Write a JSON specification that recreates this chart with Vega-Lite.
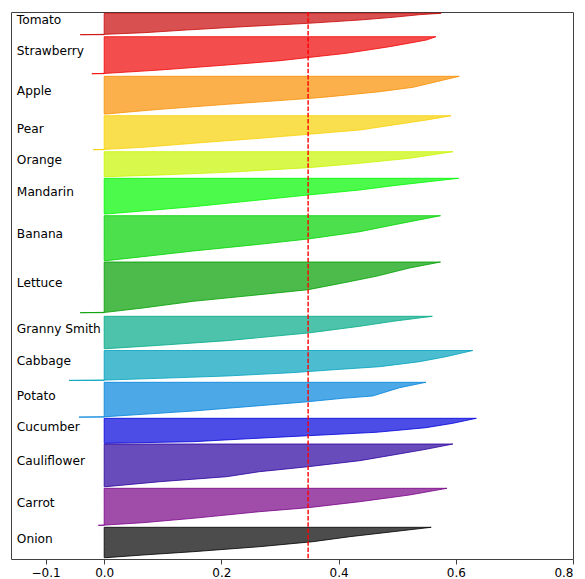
{
  "$schema": "https://vega.github.io/schema/vega-lite/v6.json",
  "width": 562,
  "height": 547,
  "autosize": "none",
  "padding": {"left": 11, "top": 12, "right": 12, "bottom": 20},
  "background": "white",
  "config": {
    "view": {"stroke": "#404040", "strokeWidth": 1},
    "font": "DejaVu Sans"
  },
  "datasets": {
    "silhouette": [
      {"cluster": "Tomato", "rank": 545.7, "value": 0.575},
      {"cluster": "Tomato", "rank": 544.3, "value": 0.538},
      {"cluster": "Tomato", "rank": 541.7, "value": 0.493},
      {"cluster": "Tomato", "rank": 539.0, "value": 0.436},
      {"cluster": "Tomato", "rank": 535.7, "value": 0.348},
      {"cluster": "Tomato", "rank": 532.3, "value": 0.237},
      {"cluster": "Tomato", "rank": 529.0, "value": 0.14},
      {"cluster": "Tomato", "rank": 526.3, "value": 0.068},
      {"cluster": "Tomato", "rank": 524.7, "value": 0.003},
      {"cluster": "Tomato", "rank": 524.3, "value": -0.041},

      {"cluster": "Strawberry", "rank": 522.3, "value": 0.566},
      {"cluster": "Strawberry", "rank": 519.0, "value": 0.55},
      {"cluster": "Strawberry", "rank": 512.3, "value": 0.487},
      {"cluster": "Strawberry", "rank": 505.7, "value": 0.413},
      {"cluster": "Strawberry", "rank": 498.3, "value": 0.30},
      {"cluster": "Strawberry", "rank": 494.0, "value": 0.209},
      {"cluster": "Strawberry", "rank": 489.0, "value": 0.095},
      {"cluster": "Strawberry", "rank": 485.7, "value": 0.005},
      {"cluster": "Strawberry", "rank": 485.3, "value": -0.021},

      {"cluster": "Apple", "rank": 482.7, "value": 0.606},
      {"cluster": "Apple", "rank": 477.3, "value": 0.567},
      {"cluster": "Apple", "rank": 471.7, "value": 0.527},
      {"cluster": "Apple", "rank": 467.3, "value": 0.47},
      {"cluster": "Apple", "rank": 462.3, "value": 0.385},
      {"cluster": "Apple", "rank": 460.5, "value": 0.348},
      {"cluster": "Apple", "rank": 454.7, "value": 0.209},
      {"cluster": "Apple", "rank": 449.7, "value": 0.095},
      {"cluster": "Apple", "rank": 445.0, "value": 0.003},

      {"cluster": "Pear", "rank": 443.3, "value": 0.592},
      {"cluster": "Pear", "rank": 439.0, "value": 0.55},
      {"cluster": "Pear", "rank": 434.0, "value": 0.493},
      {"cluster": "Pear", "rank": 429.0, "value": 0.436},
      {"cluster": "Pear", "rank": 424.7, "value": 0.348},
      {"cluster": "Pear", "rank": 420.7, "value": 0.265},
      {"cluster": "Pear", "rank": 415.7, "value": 0.152},
      {"cluster": "Pear", "rank": 411.7, "value": 0.066},
      {"cluster": "Pear", "rank": 409.7, "value": 0.003},
      {"cluster": "Pear", "rank": 409.3, "value": -0.019},

      {"cluster": "Orange", "rank": 407.3, "value": 0.595},
      {"cluster": "Orange", "rank": 400.7, "value": 0.521},
      {"cluster": "Orange", "rank": 395.7, "value": 0.436},
      {"cluster": "Orange", "rank": 391.3, "value": 0.348},
      {"cluster": "Orange", "rank": 386.7, "value": 0.209},
      {"cluster": "Orange", "rank": 384.0, "value": 0.095},
      {"cluster": "Orange", "rank": 382.3, "value": 0.003},

      {"cluster": "Mandarin", "rank": 380.7, "value": 0.605},
      {"cluster": "Mandarin", "rank": 373.3, "value": 0.493},
      {"cluster": "Mandarin", "rank": 369.0, "value": 0.436},
      {"cluster": "Mandarin", "rank": 364.0, "value": 0.348},
      {"cluster": "Mandarin", "rank": 359.0, "value": 0.265},
      {"cluster": "Mandarin", "rank": 352.3, "value": 0.152},
      {"cluster": "Mandarin", "rank": 348.0, "value": 0.066},
      {"cluster": "Mandarin", "rank": 345.0, "value": 0.003},

      {"cluster": "Banana", "rank": 343.3, "value": 0.574},
      {"cluster": "Banana", "rank": 334.0, "value": 0.493},
      {"cluster": "Banana", "rank": 327.3, "value": 0.436},
      {"cluster": "Banana", "rank": 320.0, "value": 0.348},
      {"cluster": "Banana", "rank": 314.7, "value": 0.265},
      {"cluster": "Banana", "rank": 308.0, "value": 0.152},
      {"cluster": "Banana", "rank": 302.3, "value": 0.066},
      {"cluster": "Banana", "rank": 298.3, "value": 0.003},

      {"cluster": "Lettuce", "rank": 297.0, "value": 0.574},
      {"cluster": "Lettuce", "rank": 291.0, "value": 0.521},
      {"cluster": "Lettuce", "rank": 282.7, "value": 0.464},
      {"cluster": "Lettuce", "rank": 276.0, "value": 0.407},
      {"cluster": "Lettuce", "rank": 269.3, "value": 0.348},
      {"cluster": "Lettuce", "rank": 264.3, "value": 0.265},
      {"cluster": "Lettuce", "rank": 257.7, "value": 0.152},
      {"cluster": "Lettuce", "rank": 251.0, "value": 0.066},
      {"cluster": "Lettuce", "rank": 246.7, "value": 0.003},
      {"cluster": "Lettuce", "rank": 246.3, "value": -0.041},

      {"cluster": "Granny Smith", "rank": 242.7, "value": 0.56},
      {"cluster": "Granny Smith", "rank": 237.7, "value": 0.493},
      {"cluster": "Granny Smith", "rank": 232.7, "value": 0.436},
      {"cluster": "Granny Smith", "rank": 226.0, "value": 0.348},
      {"cluster": "Granny Smith", "rank": 218.3, "value": 0.209},
      {"cluster": "Granny Smith", "rank": 213.7, "value": 0.095},
      {"cluster": "Granny Smith", "rank": 210.3, "value": 0.003},

      {"cluster": "Cabbage", "rank": 208.5, "value": 0.629},
      {"cluster": "Cabbage", "rank": 202.3, "value": 0.583},
      {"cluster": "Cabbage", "rank": 197.3, "value": 0.538},
      {"cluster": "Cabbage", "rank": 192.3, "value": 0.47},
      {"cluster": "Cabbage", "rank": 189.0, "value": 0.385},
      {"cluster": "Cabbage", "rank": 186.3, "value": 0.32},
      {"cluster": "Cabbage", "rank": 183.0, "value": 0.209},
      {"cluster": "Cabbage", "rank": 180.7, "value": 0.095},
      {"cluster": "Cabbage", "rank": 179.0, "value": 0.003},
      {"cluster": "Cabbage", "rank": 178.6, "value": -0.06},

      {"cluster": "Potato", "rank": 176.7, "value": 0.549},
      {"cluster": "Potato", "rank": 171.3, "value": 0.504},
      {"cluster": "Potato", "rank": 163.0, "value": 0.458},
      {"cluster": "Potato", "rank": 160.7, "value": 0.407},
      {"cluster": "Potato", "rank": 157.3, "value": 0.348},
      {"cluster": "Potato", "rank": 153.3, "value": 0.265},
      {"cluster": "Potato", "rank": 148.0, "value": 0.152},
      {"cluster": "Potato", "rank": 144.7, "value": 0.066},
      {"cluster": "Potato", "rank": 142.3, "value": 0.003},
      {"cluster": "Potato", "rank": 141.9, "value": -0.043},

      {"cluster": "Cucumber", "rank": 140.7, "value": 0.635},
      {"cluster": "Cucumber", "rank": 135.7, "value": 0.595},
      {"cluster": "Cucumber", "rank": 131.3, "value": 0.549},
      {"cluster": "Cucumber", "rank": 126.7, "value": 0.464},
      {"cluster": "Cucumber", "rank": 123.3, "value": 0.348},
      {"cluster": "Cucumber", "rank": 120.0, "value": 0.237},
      {"cluster": "Cucumber", "rank": 117.3, "value": 0.152},
      {"cluster": "Cucumber", "rank": 115.7, "value": 0.003},

      {"cluster": "Cauliflower", "rank": 115.0, "value": 0.595},
      {"cluster": "Cauliflower", "rank": 109.7, "value": 0.549},
      {"cluster": "Cauliflower", "rank": 104.0, "value": 0.493},
      {"cluster": "Cauliflower", "rank": 98.3, "value": 0.436},
      {"cluster": "Cauliflower", "rank": 92.3, "value": 0.348},
      {"cluster": "Cauliflower", "rank": 87.3, "value": 0.265},
      {"cluster": "Cauliflower", "rank": 82.3, "value": 0.209},
      {"cluster": "Cauliflower", "rank": 77.3, "value": 0.095},
      {"cluster": "Cauliflower", "rank": 72.3, "value": 0.003},

      {"cluster": "Carrot", "rank": 70.7, "value": 0.585},
      {"cluster": "Carrot", "rank": 64.0, "value": 0.521},
      {"cluster": "Carrot", "rank": 57.3, "value": 0.436},
      {"cluster": "Carrot", "rank": 51.3, "value": 0.348},
      {"cluster": "Carrot", "rank": 47.3, "value": 0.265},
      {"cluster": "Carrot", "rank": 40.7, "value": 0.152},
      {"cluster": "Carrot", "rank": 36.3, "value": 0.066},
      {"cluster": "Carrot", "rank": 34.0, "value": 0.003},
      {"cluster": "Carrot", "rank": 33.7, "value": -0.01},

      {"cluster": "Onion", "rank": 31.7, "value": 0.558},
      {"cluster": "Onion", "rank": 27.3, "value": 0.493},
      {"cluster": "Onion", "rank": 22.3, "value": 0.419},
      {"cluster": "Onion", "rank": 17.3, "value": 0.356},
      {"cluster": "Onion", "rank": 12.3, "value": 0.265},
      {"cluster": "Onion", "rank": 7.3, "value": 0.152},
      {"cluster": "Onion", "rank": 4.0, "value": 0.066},
      {"cluster": "Onion", "rank": 1.3, "value": 0.003}
    ],
    "average": [{"score": 0.348}]
  },
  "layer": [
    {
      "data": {"name": "silhouette"},
      "mark": {"type": "area", "orient": "horizontal", "fillOpacity": 0.7, "strokeWidth": 0.8, "interpolate": "linear"},
      "encoding": {
        "y": {
          "field": "rank", "type": "quantitative",
          "scale": {"domain": [0, 547], "nice": false, "zero": false},
          "axis": null
        },
        "x": {
          "field": "value", "type": "quantitative", "stack": null,
          "scale": {"domain": [-0.159, 0.8], "nice": false, "zero": false},
          "axis": {
            "title": null,
            "values": [-0.1, 0.0, 0.2, 0.4, 0.6, 0.8],
            "labelExpr": "datum.value < 0 ? '\u2212' + format(-datum.value, '.1f') : format(datum.value, '.1f')",
            "grid": false,
            "domain": false,
            "tickColor": "#404040",
            "tickSize": 5,
            "tickWidth": 1,
            "labelPadding": 3,
            "labelFont": "DejaVu Sans",
            "labelFontSize": 12,
            "labelColor": "#000000"
          }
        },
        "x2": {"datum": 0},
        "fill": {
          "field": "cluster", "type": "nominal", "legend": null,
          "scale": {
            "domain": ["Tomato", "Strawberry", "Apple", "Pear", "Orange", "Mandarin", "Banana", "Lettuce", "Granny Smith", "Cabbage", "Potato", "Cucumber", "Cauliflower", "Carrot", "Onion"],
            "range": ["#C80606", "#F00202", "#F98E00", "#F7D002", "#C8F500", "#00F800", "#00D300", "#009E00", "#00A986", "#00A1BC", "#0083DB", "#0000DB", "#2A009E", "#770186", "#000000"]
          }
        },
        "stroke": {
          "field": "cluster", "type": "nominal", "legend": null,
          "scale": {
            "domain": ["Tomato", "Strawberry", "Apple", "Pear", "Orange", "Mandarin", "Banana", "Lettuce", "Granny Smith", "Cabbage", "Potato", "Cucumber", "Cauliflower", "Carrot", "Onion"],
            "range": ["#C80606", "#F00202", "#F98E00", "#F7D002", "#C8F500", "#00F800", "#00D300", "#009E00", "#00A986", "#00A1BC", "#0083DB", "#0000DB", "#2A009E", "#770186", "#000000"]
          }
        }
      }
    },
    {
      "data": {"name": "silhouette"},
      "transform": [
        {"aggregate": [{"op": "min", "field": "rank", "as": "lo"}, {"op": "max", "field": "rank", "as": "hi"}], "groupby": ["cluster"]},
        {"calculate": "(datum.lo + datum.hi) / 2", "as": "mid"}
      ],
      "mark": {"type": "text", "align": "left", "baseline": "alphabetic", "font": "DejaVu Sans", "fontSize": 12.2, "color": "#000000"},
      "encoding": {
        "x": {"datum": -0.149},
        "y": {"field": "mid", "type": "quantitative"},
        "text": {"field": "cluster"}
      }
    },
    {
      "data": {"name": "average"},
      "mark": {"type": "rule", "color": "#FF0000", "strokeWidth": 1.4, "strokeDash": [4.5, 1.8]},
      "encoding": {
        "x": {"field": "score", "type": "quantitative"}
      }
    }
  ]
}
